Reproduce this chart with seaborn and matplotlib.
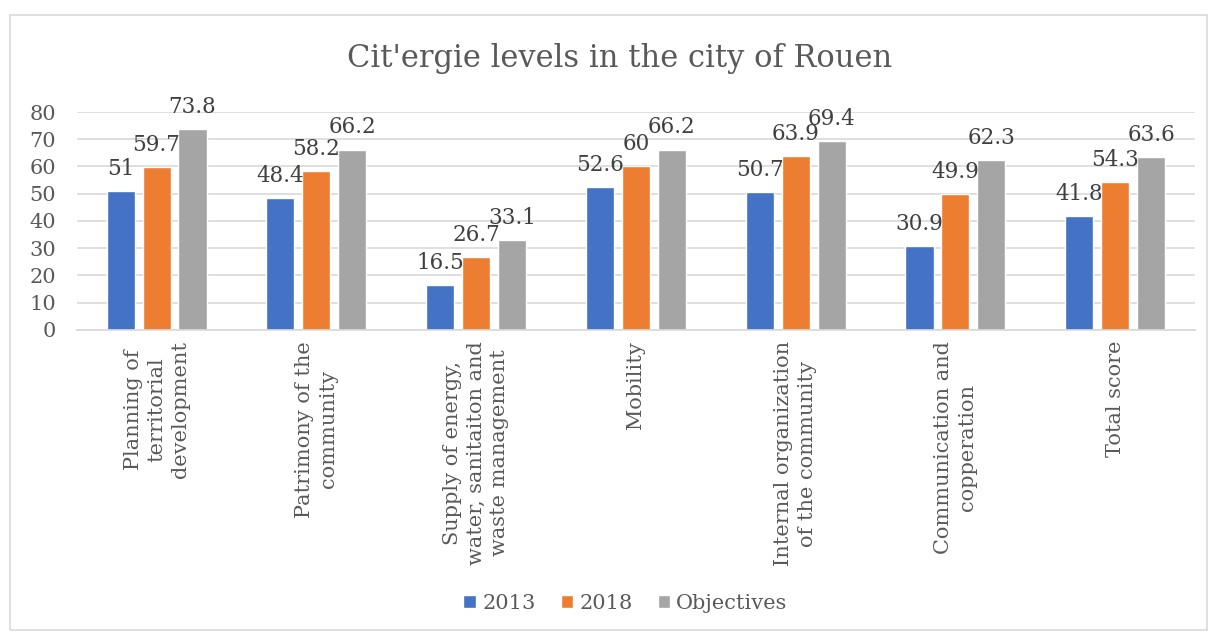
import matplotlib
matplotlib.use("Agg")
import matplotlib.pyplot as plt
import seaborn as sns
import pandas as pd
from matplotlib.patches import Rectangle

categories = [
    "Planning of\nterritorial\ndevelopment",
    "Patrimony of the\ncommunity",
    "Supply of energy,\nwater, sanitaiton and\nwaste management",
    "Mobility",
    "Internal organization\nof the community",
    "Communication and\ncopperation",
    "Total score",
]
series_names = ["2013", "2018", "Objectives"]
values_2013 = [51, 48.4, 16.5, 52.6, 50.7, 30.9, 41.8]
values_2018 = [59.7, 58.2, 26.7, 60, 63.9, 49.9, 54.3]
values_obj = [73.8, 66.2, 33.1, 66.2, 69.4, 62.3, 63.6]
y_ticks = [0, 10, 20, 30, 40, 50, 60, 70, 80]
colors = ["#4472C4", "#ED7D31", "#A5A5A5"]

rows = []
for name, vals in zip(series_names, [values_2013, values_2018, values_obj]):
    for c, v in zip(categories, vals):
        rows.append({"category": c, "series": name, "value": v})
df = pd.DataFrame(rows)

sns.set_style("white")
plt.rcParams["font.family"] = ["DejaVu Serif"]
text_color = "#595959"

fig = plt.figure(figsize=(12.17, 6.33), dpi=100)
ax = fig.add_axes([0.063, 0.479, 0.919, 0.344])

sns.barplot(data=df, x="category", y="value", hue="series", palette=colors,
            width=0.675, gap=0.22, ax=ax, legend=True, saturation=1)

for cont in ax.containers:
    ax.bar_label(cont, labels=[f"{v:g}" for v in cont.datavalues],
                 padding=8, fontsize=15.5, color="#404040")

ax.set_ylim(0, 80)
ax.set_yticks(y_ticks)
ax.yaxis.grid(True, color="#D9D9D9", linewidth=1.2)
ax.set_axisbelow(True)
for s in ["top", "right", "left"]:
    ax.spines[s].set_visible(False)
ax.spines["bottom"].set_color("#D9D9D9")
ax.spines["bottom"].set_linewidth(1.2)
ax.tick_params(axis="y", labelsize=15, labelcolor=text_color, length=0, pad=15)
ax.tick_params(axis="x", labelsize=15, labelcolor=text_color, length=0, pad=8)
ax.set_xlim(-0.5, len(categories) - 0.5)
for lab in ax.get_xticklabels():
    lab.set_rotation(90)
    lab.set_ha("center")
    lab.set_va("top")
    lab.set_multialignment("center")
    lab.set_linespacing(1.3)
ax.set_xlabel("")
ax.set_ylabel("")

fig.text(0.509, 0.907, "Cit'ergie levels in the city of Rouen", ha="center", va="center",
         fontsize=22, color=text_color)

handles, labels = ax.get_legend_handles_labels()
ax.legend_.remove()
fig.legend(handles, labels, loc="center", bbox_to_anchor=(0.514, 0.047), ncol=3,
           frameon=False, fontsize=15, labelcolor=text_color, handlelength=0.6,
           handleheight=0.6, handletextpad=0.3, columnspacing=1.2)

fig.patches.append(Rectangle((10 / 1217, 3 / 633), 1197 / 1217, 615 / 633,
                             transform=fig.transFigure, fill=False,
                             edgecolor="#D9D9D9", linewidth=1.2))

fig.savefig("out.png", dpi=100, facecolor="white")
